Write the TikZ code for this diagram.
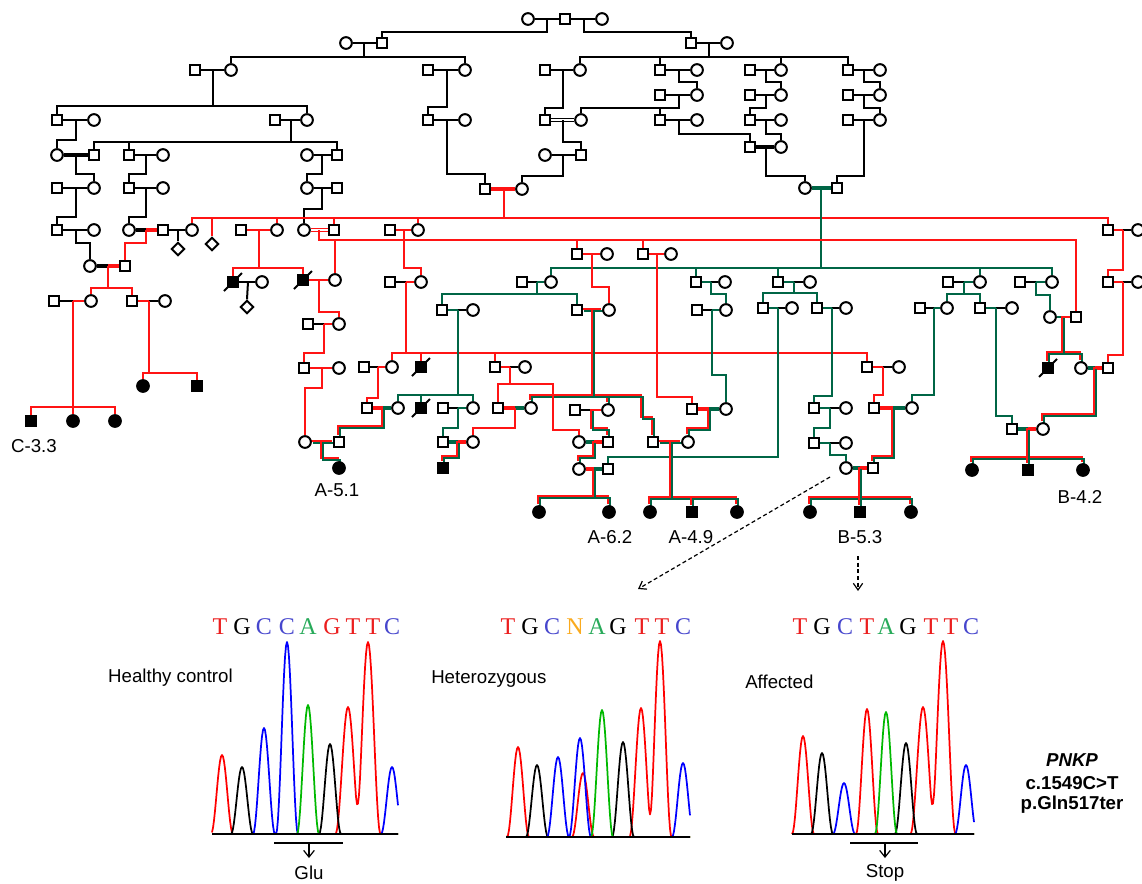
\documentclass[tikz,border=0pt]{standalone}
\usepackage{fontspec}
\setmainfont{Liberation Sans}
\newfontfamily\seqf{Liberation Serif}
\usetikzlibrary{shapes.geometric,calc,arrows.meta}
\pgfdeclarelayer{bg}
\pgfsetlayers{bg,main}
\definecolor{pr}{RGB}{255,20,20}
\definecolor{pg}{RGB}{0,102,70}
\definecolor{qr}{RGB}{255,0,0}
\definecolor{qb}{RGB}{0,0,255}
\definecolor{qg}{RGB}{0,185,0}
\definecolor{lr}{RGB}{235,30,30}
\definecolor{lb}{RGB}{70,70,205}
\definecolor{lg}{RGB}{40,170,90}
\definecolor{lo}{RGB}{250,170,30}
\newcommand\SetJ[2]{\path let \p1=($(#1)!0.5!(#2)$) in coordinate (J#1) at ({round(\x1/0.75)*0.75pt},\y1);}
\newcommand\Mrg[4]{\SetJ{#1}{#2}\draw[#3] (#1.east) -- (J#1);\draw[#4] (J#1) -- (#2.west);}
\newcommand\Dsc[4]{\draw[#1] (J#2) -- (J#2|-0,#3) -| (#4.north);}
\newcommand\Tck[3]{\draw[#1] (#3.north) -- (#3.north|-0,#2);}
\newcommand\RG[1]{\draw[rl,thn,transform canvas={xshift=-0.75pt,yshift=0.75pt}] #1;\draw[gl,thn,transform canvas={xshift=0.75pt,yshift=-0.75pt}] #1;}
\newcommand\RGdsc[3]{\RG{(J#1) -- (J#1|-0,#2) -| (#3.north)}}
\newcommand\RGtck[2]{\RG{(#2.north) -- (#2.north|-0,#1)}}
\newcommand\RGmrg[2]{\SetJ{#1}{#2}\RG{(#1.east) -- (#2.west)}}
\newcommand\Pk[3]{-(#2)*0.5*(1+cos(180*min(abs(\x-#1)/#3,1)))}
\newcommand\Ltr[4]{\node[sqf,text=#3] at (#1,#2) {#4};}
\begin{document}
\begin{tikzpicture}[x=0.75pt,y=-0.75pt,
  sq/.style={draw,line width=1.5pt,minimum size=8.2pt,inner sep=0pt,fill=white,rectangle},
  ci/.style={draw,line width=1.5pt,minimum size=8.8pt,inner sep=0pt,fill=white,circle},
  fs/.style={sq,fill=black},
  fc/.style={ci,fill=black},
  dm/.style={draw,line width=1.5pt,diamond,minimum size=10pt,inner sep=0pt,fill=white},
  bl/.style={black,line width=1.5pt},
  rl/.style={pr,line width=1.5pt},
  gl/.style={pg,line width=1.5pt},
  thn/.style={line width=1.2pt},
  tk/.style={line width=3.4pt},
  dbk/.style={draw=black,double=white,double distance=1pt,line width=1pt},
  drd/.style={draw=pr,double=white,double distance=1pt,line width=1pt},
  lab/.style={font=\fontsize{14}{16}\selectfont,inner sep=0pt},
  sqf/.style={font=\seqf\fontsize{18}{20}\selectfont,inner sep=0pt},
  tr/.style={line width=1.3pt,line join=round},
  sl/.style={black,line width=1.4pt}]
\useasboundingbox (0,0) rectangle (1142,883);
% ---------- symbols ----------
\node[ci] (t1) at (528,19) {}; \node[sq] (t2) at (565,19) {}; \node[ci] (t3) at (602,19) {};
\node[ci] (a0) at (346,43) {}; \node[sq] (a1) at (382,43) {};
\node[sq] (b1) at (691,43) {}; \node[ci] (b2) at (727,43) {};
\node[sq] (c1) at (195,70) {}; \node[ci] (c2) at (231,70) {};
\node[sq] (d1) at (428,70) {}; \node[ci] (d2) at (465,70) {};
\node[sq] (e1) at (545,70) {}; \node[ci] (e2) at (580,70) {};
\node[sq] (f1) at (660,70) {}; \node[ci] (f2) at (697,70) {};
\node[sq] (g1) at (750,70) {}; \node[ci] (g2) at (781,70) {};
\node[sq] (h1) at (848,70) {}; \node[ci] (h2) at (880,70) {};
\node[sq] (f3) at (660,95) {}; \node[ci] (f4) at (697,95) {};
\node[sq] (g3) at (750,95) {}; \node[ci] (g4) at (781,95) {};
\node[sq] (h3) at (848,95) {}; \node[ci] (h4) at (880,95) {};
\node[sq] (i1) at (57,120) {}; \node[ci] (i2) at (94,120) {};
\node[sq] (i3) at (275,120) {}; \node[ci] (i4) at (307,120) {};
\node[sq] (d3) at (428,120) {}; \node[ci] (d4) at (465,120) {};
\node[sq] (e3) at (545,120) {}; \node[ci] (e4) at (581,120) {};
\node[sq] (f5) at (660,120) {}; \node[ci] (f6) at (697,120) {};
\node[sq] (g5) at (750,120) {}; \node[ci] (g6) at (781,120) {};
\node[sq] (h5) at (848,120) {}; \node[ci] (h6) at (880,120) {};
\node[ci] (k1) at (57,155) {}; \node[sq] (k2) at (94,155) {};
\node[sq] (k3) at (129,155) {}; \node[ci] (k4) at (163,155) {};
\node[ci] (k5) at (307,155) {}; \node[sq] (k6) at (337,155) {};
\node[ci] (e5) at (545,155) {}; \node[sq] (e6) at (581,155) {};
\node[sq] (g7) at (750,147) {}; \node[ci] (g8) at (781,147) {};
\node[sq] (l1) at (57,188) {}; \node[ci] (l2) at (94,188) {};
\node[sq] (l3) at (129,188) {}; \node[ci] (l4) at (163,188) {};
\node[ci] (l5) at (307,188) {}; \node[sq] (l6) at (337,188) {};
\node[sq] (m1) at (485,189) {}; \node[ci] (m2) at (522,189) {};
\node[ci] (n1) at (805,188) {}; \node[sq] (n2) at (837,188) {};
\node[sq] (o1) at (57,230) {}; \node[ci] (o2) at (94,230) {};
\node[ci] (o3) at (129,230) {}; \node[sq] (o4) at (163,230) {}; \node[ci] (o5) at (192,230) {};
\node[dm] (o6) at (178,249) {}; \node[dm] (o7) at (212,244) {};
\node[sq] (o8) at (241,230) {}; \node[ci] (o9) at (277,230) {};
\node[ci] (o10) at (304,230) {}; \node[sq] (o11) at (334,230) {};
\node[sq] (o12) at (390,230) {}; \node[ci] (o13) at (418,230) {};
\node[sq] (o14) at (1108,230) {}; \node[ci] (o15) at (1138,230) {};
\node[sq] (p1) at (577,254) {}; \node[ci] (p2) at (607,254) {};
\node[sq] (p3) at (643,254) {}; \node[ci] (p4) at (671,254) {};
\node[ci] (q1) at (90,266) {}; \node[sq] (q2) at (125,266) {};
\node[fs] (r1) at (233,282) {}; \node[ci] (r2) at (262,282) {};
\node[fs] (r3) at (303,280) {}; \node[ci] (r4) at (335,280) {};
\node[sq] (r5) at (390,282) {}; \node[ci] (r6) at (421,282) {};
\node[sq] (r7) at (522,282) {}; \node[ci] (r8) at (551,282) {};
\node[sq] (r9) at (696,282) {}; \node[ci] (r10) at (725,282) {};
\node[sq] (r11) at (778,282) {}; \node[ci] (r12) at (810,282) {};
\node[sq] (r13) at (948,282) {}; \node[ci] (r14) at (980,282) {};
\node[sq] (r15) at (1020,282) {}; \node[ci] (r16) at (1052,282) {};
\node[sq] (r17) at (1108,282) {}; \node[ci] (r18) at (1138,282) {};
\node[sq] (s1) at (54,301) {}; \node[ci] (s2) at (91,301) {};
\node[sq] (s3) at (132,301) {}; \node[ci] (s4) at (165,301) {};
\node[dm] (s5) at (247,307) {};
\node[sq] (u1) at (442,310) {}; \node[ci] (u2) at (473,310) {};
\node[sq] (u3) at (577,310) {}; \node[ci] (u4) at (609,310) {};
\node[sq] (u5) at (697,310) {}; \node[ci] (u6) at (726,310) {};
\node[sq] (u7) at (763,308) {}; \node[ci] (u8) at (792,308) {};
\node[sq] (u9) at (817,308) {}; \node[ci] (u10) at (846,308) {};
\node[sq] (u11) at (920,308) {}; \node[ci] (u12) at (947,308) {};
\node[sq] (u13) at (980,308) {}; \node[ci] (u14) at (1012,308) {};
\node[ci] (u15) at (1050,317) {}; \node[sq] (u16) at (1076,317) {};
\node[sq] (v1) at (308,324) {}; \node[ci] (v2) at (339,324) {};
\node[sq] (w1) at (304,368) {}; \node[ci] (w2) at (339,368) {};
\node[sq] (w3) at (364,367) {}; \node[ci] (w4) at (392,367) {};
\node[fs] (w5) at (421,367) {};
\node[sq] (w6) at (495,367) {}; \node[ci] (w7) at (525,367) {};
\node[sq] (w8) at (867,367) {}; \node[ci] (w9) at (899,367) {};
\node[fs] (w10) at (1048,368) {}; \node[ci] (w11) at (1081,368) {}; \node[sq] (w12) at (1108,368) {};
\node[fc] (x1) at (143,386) {}; \node[fs] (x2) at (197,386) {};
\node[sq] (y1) at (367,408) {}; \node[ci] (y2) at (398,408) {};
\node[fs] (y3) at (421,408) {};
\node[sq] (y4) at (443,408) {}; \node[ci] (y5) at (473,408) {};
\node[sq] (y6) at (498,408) {}; \node[ci] (y7) at (531,408) {};
\node[sq] (y8) at (575,410) {}; \node[ci] (y9) at (608,410) {};
\node[sq] (y10) at (692,409) {}; \node[ci] (y11) at (726,409) {};
\node[sq] (y12) at (814,408) {}; \node[ci] (y13) at (846,408) {};
\node[sq] (y14) at (874,408) {}; \node[ci] (y15) at (912,408) {};
\node[fs] (z1) at (31,421) {}; \node[fc] (z2) at (73,421) {}; \node[fc] (z3) at (115,421) {};
\node[sq] (aa1) at (1012,429) {}; \node[ci] (aa2) at (1043,429) {};
\node[ci] (bb1) at (305,442) {}; \node[sq] (bb2) at (339,442) {};
\node[sq] (bb3) at (443,442) {}; \node[ci] (bb4) at (473,442) {};
\node[ci] (bb5) at (579,442) {}; \node[sq] (bb6) at (608,442) {};
\node[sq] (bb7) at (653,442) {}; \node[ci] (bb8) at (688,442) {};
\node[sq] (bb9) at (814,443) {}; \node[ci] (bb10) at (846,443) {};
\node[fc] (cc1) at (339,468) {};
\node[fs] (cc2) at (443,468) {};
\node[ci] (cc3) at (579,469) {}; \node[sq] (cc4) at (608,469) {};
\node[ci] (cc5) at (846,468) {}; \node[sq] (cc6) at (873,468) {};
\node[fc] (cc7) at (972,470) {}; \node[fs] (cc8) at (1028,470) {}; \node[fc] (cc9) at (1083,470) {};
\node[fc] (dd1) at (539,512) {}; \node[fc] (dd2) at (609,512) {};
\node[fc] (dd3) at (650,512) {}; \node[fs] (dd4) at (692,512) {}; \node[fc] (dd5) at (737,512) {};
\node[fc] (dd6) at (810,512) {}; \node[fs] (dd7) at (860,512) {}; \node[fc] (dd8) at (911,512) {};
% deceased slashes
\foreach \n in {r1,r3,w5,y3,w10}{\draw[sl] ($(\n)+(-9,9)$) -- ($(\n)+(9,-9)$);}
% ---------- connectors ----------
\begin{pgfonlayer}{bg}
\Mrg{t1}{t2}{bl}{bl} \Mrg{t2}{t3}{bl}{bl}
\Dsc{bl}{t1}{32}{a1} \Dsc{bl}{t2}{32}{b1}
\Mrg{a0}{a1}{bl}{bl} \Dsc{bl}{a0}{57}{c2} \Dsc{bl}{a0}{57}{d2}
\Mrg{b1}{b2}{bl}{bl} \Dsc{bl}{b1}{57}{e2} \Dsc{bl}{b1}{57}{h1} \Tck{bl}{57}{f1} \Tck{bl}{57}{g2}
\Mrg{c1}{c2}{bl}{bl} \Dsc{bl}{c1}{106}{i1} \Dsc{bl}{c1}{106}{i4}
\Mrg{d1}{d2}{bl}{bl} \Dsc{bl}{d1}{107}{d3}
\Mrg{e1}{e2}{bl}{bl} \Dsc{bl}{e1}{108}{e3}
\Mrg{f1}{f2}{bl}{bl} \Dsc{bl}{f1}{82}{f4}
\Mrg{g1}{g2}{bl}{bl} \Dsc{bl}{g1}{82}{g4}
\Mrg{h1}{h2}{bl}{bl} \Dsc{bl}{h1}{82}{h4}
\Mrg{f3}{f4}{bl}{bl} \Dsc{bl}{f3}{108}{e4} \Tck{bl}{108}{f5}
\Mrg{g3}{g4}{bl}{bl} \Dsc{bl}{g3}{108}{g5}
\Mrg{h3}{h4}{bl}{bl} \Dsc{bl}{h3}{108}{h6}
\Mrg{i1}{i2}{bl}{bl} \Dsc{bl}{i1}{140}{k1}
\Mrg{i3}{i4}{bl}{bl} \Dsc{bl}{i3}{142}{k2} \Dsc{bl}{i3}{142}{k6} \Tck{bl}{142}{k3}
\Mrg{d3}{d4}{bl}{bl} \Dsc{bl}{d3}{174}{m1}
\Mrg{e3}{e4}{dbk}{dbk} \Dsc{bl}{e3}{142}{e6}
\Mrg{f5}{f6}{bl}{bl} \Dsc{bl}{f5}{134}{g7}
\Mrg{g5}{g6}{bl}{bl} \Dsc{bl}{g5}{134}{g8}
\Mrg{h5}{h6}{bl}{bl} \Dsc{bl}{h5}{176}{n2}
\Mrg{k1}{k2}{bl,tk}{bl,tk} \Dsc{bl}{k1}{174}{l2}
\Mrg{k3}{k4}{bl}{bl} \Dsc{bl}{k3}{174}{l3}
\Mrg{k5}{k6}{bl}{bl} \Dsc{bl}{k5}{174}{l5}
\Mrg{e5}{e6}{bl}{bl} \Dsc{bl}{e5}{176}{m2}
\Mrg{g7}{g8}{bl,tk}{bl,tk} \Dsc{bl}{g7}{176}{n1}
\Mrg{l1}{l2}{bl}{bl} \Dsc{bl}{l1}{217}{o1}
\Mrg{l3}{l4}{bl}{bl} \Dsc{bl}{l3}{217}{o3}
\Mrg{l5}{l6}{bl}{bl} \Dsc{bl}{l5}{209}{o10}
\Mrg{m1}{m2}{rl,tk}{rl,tk} \Dsc{rl}{m1}{218}{o5} \Dsc{rl}{m1}{218}{o14}
\Tck{rl}{218}{o7} \Tck{rl}{218}{o9} \Tck{rl}{218}{o11} \Tck{rl}{218}{o13}
\Mrg{n1}{n2}{gl,tk}{gl,tk} \Dsc{gl}{n1}{268}{r8} \Dsc{gl}{n1}{268}{r16}
\Tck{gl}{268}{r9} \Tck{gl}{268}{r11} \Tck{gl}{268}{r14}
\Mrg{o1}{o2}{bl}{bl} \Dsc{bl}{o1}{243}{q1}
\Mrg{o3}{o4}{bl,tk}{rl,tk} \Dsc{rl}{o3}{243}{q2}
\Mrg{o4}{o5}{bl}{bl} \draw[bl] (Jo4) -- (o6.north);
\Mrg{o8}{o9}{rl}{rl} \Dsc{rl}{o8}{268}{r1} \Dsc{rl}{o8}{268}{r3}
\Mrg{o10}{o11}{drd}{drd} \Dsc{rl}{o10}{240}{u16} \Tck{rl}{240}{r4} \Tck{rl}{240}{p1} \Tck{rl}{240}{p3}
\Mrg{o12}{o13}{rl}{rl} \Dsc{rl}{o12}{268}{r6}
\Mrg{o14}{o15}{rl}{bl} \Dsc{rl}{o14}{270}{r17}
\Mrg{p1}{p2}{rl}{rl} \Dsc{rl}{p1}{287}{u4}
\Mrg{p3}{p4}{rl}{rl} \Dsc{rl}{p3}{397}{y10}
\Mrg{q1}{q2}{bl,tk}{rl,tk} \Dsc{rl}{q1}{288}{s2} \Dsc{rl}{q1}{288}{s3}
\Mrg{r1}{r2}{bl}{bl} \draw[bl] (Jr1) -- (s5.north);
\Mrg{r3}{r4}{rl}{rl} \Dsc{rl}{r3}{312}{v2}
\Mrg{r5}{r6}{bl}{rl} \Dsc{rl}{r5}{353}{w4} \Dsc{rl}{r5}{353}{w8} \Tck{rl}{353}{w5} \Tck{rl}{353}{w6}
\Mrg{r7}{r8}{bl}{gl} \Dsc{gl}{r7}{294}{u1} \Dsc{gl}{r7}{294}{u3}
\Mrg{r9}{r10}{gl}{bl} \Dsc{gl}{r9}{294}{u6}
\Mrg{r11}{r12}{gl}{bl} \Dsc{gl}{r11}{293}{u7} \Dsc{gl}{r11}{293}{u9}
\Mrg{r13}{r14}{bl}{gl} \Dsc{gl}{r13}{294}{u12} \Dsc{gl}{r13}{294}{u13}
\Mrg{r15}{r16}{bl}{gl} \Dsc{gl}{r15}{295}{u15}
\Mrg{r17}{r18}{rl}{bl} \Dsc{rl}{r17}{355}{w12}
\Mrg{s1}{s2}{bl}{rl} \Dsc{rl}{s1}{407}{z1} \Dsc{rl}{s1}{407}{z3} \Tck{rl}{407}{z2}
\Mrg{s3}{s4}{rl}{bl} \Dsc{rl}{s3}{373}{x1} \Dsc{rl}{s3}{373}{x2}
\Mrg{u1}{u2}{gl}{bl} \Dsc{gl}{u1}{395}{y2} \Dsc{gl}{u1}{395}{y5} \Tck{gl}{395}{y3}
\RGmrg{u3}{u4} \RGdsc{u3}{396}{y7} \RGtck{396}{y9}
\RG{(Ju3) -- (Ju3|-0,396) -- (642,396) -- (642,418) -| (bb7.north)}
\Mrg{u5}{u6}{bl}{gl} \Dsc{gl}{u5}{375}{y11}
\Mrg{u7}{u8}{gl}{bl} \Dsc{gl}{u7}{457}{cc4}
\Mrg{u9}{u10}{gl}{bl} \Dsc{gl}{u9}{396}{y12}
\Mrg{u11}{u12}{bl}{gl} \Dsc{gl}{u11}{395}{y15}
\Mrg{u13}{u14}{gl}{bl} \Dsc{gl}{u13}{416}{aa1}
\Mrg{u15}{u16}{gl}{rl} \RGdsc{u15}{353}{w10} \RGdsc{u15}{353}{w11}
\Mrg{v1}{v2}{bl}{rl} \Dsc{rl}{v1}{353}{w1}
\Mrg{w1}{w2}{rl}{rl} \Dsc{rl}{w1}{388}{bb1}
\Mrg{w3}{w4}{bl}{rl} \Dsc{rl}{w3}{398}{y1}
\Mrg{w6}{w7}{rl}{bl} \Dsc{rl}{w6}{384}{y6}
\draw[rl] (Jw6) -- (Jw6|-0,384) -- (553,384) -- (553,430) -| (bb5.north);
\Mrg{w8}{w9}{rl}{bl} \Dsc{rl}{w8}{395}{y14}
\Mrg{w11}{w12}{gl,tk}{rl,tk} \RGdsc{w11}{415}{aa2}
\Mrg{y1}{y2}{rl,tk}{gl,tk} \RGdsc{y1}{427}{bb2}
\Mrg{y4}{y5}{bl}{gl} \Dsc{gl}{y4}{428}{bb3}
\Mrg{y6}{y7}{rl,tk}{gl,tk} \Dsc{rl}{y6}{428}{bb4}
\Mrg{y8}{y9}{bl}{rl} \RGdsc{y8}{429}{bb6}
\Mrg{y10}{y11}{rl,tk}{gl,tk} \RGdsc{y10}{429}{bb8}
\Mrg{y12}{y13}{gl}{bl} \Dsc{gl}{y12}{428}{bb9}
\Mrg{y14}{y15}{rl,tk}{gl,tk} \RGdsc{y14}{457}{cc6}
\Mrg{aa1}{aa2}{gl,tk}{rl,tk} \RGdsc{aa1}{458}{cc7} \RGdsc{aa1}{458}{cc9} \RGtck{458}{cc8}
\RGmrg{bb1}{bb2} \RGdsc{bb1}{459}{cc1}
\Mrg{bb3}{bb4}{gl,tk}{rl,tk} \RGdsc{bb3}{457}{cc2}
\Mrg{bb5}{bb6}{gl,tk}{rl,tk} \RGdsc{bb5}{457}{cc3}
\RGmrg{bb7}{bb8} \RGdsc{bb7}{498}{dd3} \RGdsc{bb7}{498}{dd5} \RGtck{498}{dd4}
\Mrg{bb9}{bb10}{gl}{bl} \Dsc{gl}{bb9}{455}{cc5}
\Mrg{cc3}{cc4}{rl,tk}{gl,tk} \RGdsc{cc3}{497}{dd1} \RGdsc{cc3}{497}{dd2}
\Mrg{cc5}{cc6}{gl,tk}{rl,tk} \RGdsc{cc5}{498}{dd6} \RGdsc{cc5}{498}{dd8} \RGtck{498}{dd7}
\end{pgfonlayer}
% ---------- labels ----------
\node[lab] (L1) at (34,446) {C-3.3};
\node[lab] (L2) at (337,490) {A-5.1};
\node[lab] (L3) at (610,537) {A-6.2};
\node[lab] (L4) at (691,537) {A-4.9};
\node[lab] (L5) at (860,537) {B-5.3};
\node[lab] (L6) at (1080,497) {B-4.2};
% dashed arrows
\coordinate (da1) at (830,477); \coordinate (da2) at (638,589);
\coordinate (db1) at (858,556); \coordinate (db2) at (858,591);
\draw[line width=0.9pt,dash pattern=on 3pt off 2pt,-{Straight Barb[length=5pt,width=7pt]}] (da1) -- (da2);
\draw[line width=0.9pt,dash pattern=on 3pt off 2pt,-{Straight Barb[length=5pt,width=7pt]}] (db1) -- (db2);
% ---------- sequences ----------
\Ltr{220}{627}{lr}{T}\Ltr{242}{627}{black}{G}\Ltr{264}{627}{lb}{C}\Ltr{287}{627}{lb}{C}\Ltr{308}{627}{lg}{A}
\Ltr{332}{627}{lr}{G}\Ltr{353}{627}{lr}{T}\Ltr{373}{627}{lr}{T}\Ltr{392}{627}{lb}{C}
\Ltr{508}{627}{lr}{T}\Ltr{530}{627}{black}{G}\Ltr{552}{627}{lb}{C}\Ltr{575}{627}{lo}{N}\Ltr{597}{627}{lg}{A}
\Ltr{618}{627}{black}{G}\Ltr{642}{627}{lr}{T}\Ltr{662}{627}{lr}{T}\Ltr{683}{627}{lb}{C}
\Ltr{800}{627}{lr}{T}\Ltr{822}{627}{black}{G}\Ltr{845}{627}{lb}{C}\Ltr{867}{627}{lr}{T}\Ltr{886}{627}{lg}{A}
\Ltr{908}{627}{black}{G}\Ltr{931}{627}{lr}{T}\Ltr{951}{627}{lr}{T}\Ltr{971}{627}{lb}{C}
\node[lab,anchor=east] (hc) at (233,678) {Healthy control};
\node[lab,anchor=west] (hz) at (431,679) {Heterozygous};
\node[lab,anchor=west] (af) at (745,682) {Affected};
\node[lab,font=\fontsize{14}{16}\selectfont\bfseries\itshape] (g0) at (1072,760) {PNKP};
\node[lab,font=\fontsize{14}{16}\selectfont\bfseries] (g1) at (1072,783) {c.1549C>T};
\node[lab,font=\fontsize{14}{16}\selectfont\bfseries] (g2) at (1072,805) {p.Gln517ter};
% ---------- chromatograms ----------
\draw[tr,qr] plot[domain=212:398,samples=187] (\x,{834\Pk{222}{79}{11}\Pk{348}{127}{12.5}\Pk{368}{192}{12.5}});
\draw[tr,black] plot[domain=212:398,samples=187] (\x,{834\Pk{242}{67}{11}\Pk{330}{90}{11}});
\draw[tr,qb] plot[domain=212:398,samples=187] (\x,{834\Pk{264}{106}{11}\Pk{287}{192}{11}\Pk{392}{67}{11}});
\draw[tr,qg] plot[domain=212:398,samples=187] (\x,{834\Pk{308}{129}{11}});
\draw[black,line width=1pt] (212,834) -- (398,834);
\draw[tr,qr] plot[domain=506:690,samples=185] (\x,{837\Pk{518}{90}{11}\Pk{583}{64}{11}\Pk{641}{129}{11.5}\Pk{660}{196}{11.5}});
\draw[tr,black] plot[domain=506:690,samples=185] (\x,{837\Pk{537}{72}{11}\Pk{623}{95}{11}});
\draw[tr,qb] plot[domain=506:690,samples=185] (\x,{837\Pk{558}{80}{11}\Pk{580}{99}{11}\Pk{683}{74}{11}});
\draw[tr,qg] plot[domain=506:690,samples=185] (\x,{837\Pk{602}{127}{11}});
\draw[black,line width=1pt] (506,837) -- (690,837);
\draw[tr,qr] plot[domain=792:974,samples=183] (\x,{834\Pk{803}{98}{11}\Pk{867}{125}{11}\Pk{923}{127}{12.5}\Pk{943}{193}{12.5}});
\draw[tr,black] plot[domain=792:974,samples=183] (\x,{834\Pk{822}{81}{11}\Pk{906}{91}{11}});
\draw[tr,qb] plot[domain=792:974,samples=183] (\x,{834\Pk{844}{51}{11}\Pk{966}{69}{11}});
\draw[tr,qg] plot[domain=792:974,samples=183] (\x,{834\Pk{886}{122}{11}});
\draw[black,line width=1pt] (792,834) -- (974,834);
% brackets
\coordinate (ga) at (274,843); \coordinate (gb) at (343,843);
\coordinate (gc) at (309,843); \coordinate (gd) at (309,858);
\draw[line width=0.9pt] (ga) -- (gb);
\draw[line width=0.9pt,-{Straight Barb[length=5pt,width=8pt]}] (gc) -- (gd);
\node[lab] (glu) at (309,873) {Glu};
\coordinate (sa) at (850,843); \coordinate (sb) at (918,843);
\coordinate (sc) at (885,843); \coordinate (sd) at (885,858);
\draw[line width=0.9pt] (sa) -- (sb);
\draw[line width=0.9pt,-{Straight Barb[length=5pt,width=8pt]}] (sc) -- (sd);
\node[lab] (stp) at (885,873) {Stop};
\end{tikzpicture}
\end{document}
